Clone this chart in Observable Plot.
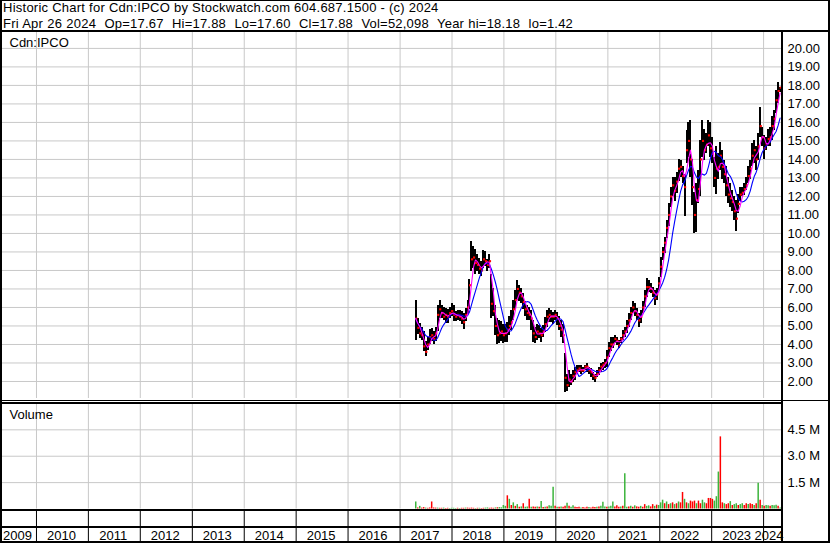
<!DOCTYPE html>
<html><head><meta charset="utf-8">
<script src="https://cdn.jsdelivr.net/npm/d3@7"></script>
<script src="https://cdn.jsdelivr.net/npm/@observablehq/plot@0.6"></script>
<style>
body{margin:0;background:#fff;}
#wrap{position:relative;width:830px;height:543px;overflow:hidden;background:#fff;font-family:"Liberation Sans",Arial,sans-serif;font-size:13px;color:#000;}
#wrap svg{position:absolute;left:0;overflow:visible;}
.hd{position:absolute;left:3px;white-space:pre;line-height:15px;font-size:13px;}
.ln{position:absolute;background:#000;z-index:5;}
</style></head><body><div id="wrap"></div>
<script>
const titleLine = "Historic Chart for Cdn:IPCO by Stockwatch.com 604.687.1500 - (c) 2024";
const quoteLine = "Fri Apr 26 2024  Op=17.67  Hi=17.88  Lo=17.60  Cl=17.88  Vol=52,098  Year hi=18.18  lo=1.42";
const symbolLabel = "Cdn:IPCO";
const volumeLabel = "Volume";

// biweekly bars ending on the last quote date
const lastDate = new Date(Date.UTC(2024, 3, 26));
const highs = [6.35,5.42,5.15,4.9,4.7,4.15,4.4,4.8,4.88,4.7,
4.9,6.1,6.4,6.1,6.0,5.96,5.9,6.0,6.2,6.1,
5.8,5.85,5.85,5.8,5.7,5.95,6.4,7.5,9.58,9.3,
9.15,8.85,8.67,8.5,9.1,9.0,8.6,8.85,7.77,7.05,
6.1,5.4,5.3,5.24,5.06,5.1,5.2,5.5,5.84,6.4,
6.9,7.46,7.2,7.0,6.74,6.3,6.1,6.0,5.84,5.3,
4.94,5.1,5.0,4.85,5.0,5.48,5.84,5.93,5.84,5.75,
5.84,5.75,5.5,5.3,5.1,3.5,2.4,2.6,2.4,2.6,
2.77,2.86,2.86,2.86,2.77,2.86,2.95,2.77,2.68,2.5,
2.4,2.6,2.77,2.95,3.05,3.2,3.68,4.1,4.4,4.4,
4.5,4.4,4.2,4.4,4.76,4.94,5.3,5.66,6.0,6.3,
6.2,5.93,5.66,5.84,6.3,6.9,7.55,7.46,7.28,7.1,
6.9,7.0,7.64,8.7,9.26,9.8,10.7,11.6,12.5,13.05,
13.05,13.3,14.0,13.95,13.6,13.2,15.57,16.0,16.1,14.0,
12.2,12.7,13.4,15.0,16.1,15.6,15.4,16.1,16.0,15.2,
14.1,14.7,14.3,14.9,14.5,13.95,13.6,13.0,12.7,12.3,
12.0,11.8,12.1,12.5,12.5,12.7,13.0,13.6,13.95,14.85,
15.0,14.7,15.4,16.8,15.75,15.3,15.2,15.6,15.75,16.3,
16.65,17.7,18.18,17.88];
const lows = [4.2,4.52,4.33,4.2,3.6,3.35,3.7,4.0,4.15,4.0,
4.15,4.7,5.4,5.4,5.3,5.15,5.15,5.4,5.5,5.25,
5.25,5.3,5.25,5.1,4.8,5.25,5.6,5.9,7.95,8.1,
7.77,7.95,7.77,7.7,8.1,8.2,7.95,8.1,5.4,5.5,
4.5,4.0,4.05,4.15,4.06,4.1,4.1,4.5,4.76,5.3,
5.84,6.4,6.3,6.2,5.9,5.5,5.3,5.3,4.76,4.1,
4.04,4.2,4.3,4.1,4.4,4.67,4.94,5.2,5.2,5.1,
5.3,5.0,4.76,4.4,4.04,1.42,1.45,1.7,1.8,1.96,
2.05,2.4,2.5,2.4,2.5,2.6,2.5,2.4,2.23,2.05,
1.96,2.23,2.3,2.5,2.6,2.7,2.77,3.3,3.6,3.77,
4.04,3.95,3.77,4.04,4.2,4.4,4.58,4.94,5.3,5.66,
5.5,5.3,4.94,5.12,5.66,6.0,6.56,6.83,6.74,6.56,
6.1,6.38,6.92,7.64,8.54,8.9,9.7,10.35,11.4,11.97,
11.7,12.15,12.8,13.05,12.7,10.9,13.77,14.1,13.05,11.5,
10.0,10.05,11.6,12.0,14.1,13.95,14.3,14.7,14.1,13.76,
12.5,12.1,12.9,13.4,12.9,12.7,12.0,11.6,11.4,11.2,
10.7,10.1,11.1,11.7,11.97,12.05,12.3,12.7,12.9,13.6,
13.76,13.4,13.95,15.2,14.7,14.0,14.5,14.7,14.7,15.0,
15.57,16.5,17.0,17.6];
const closes = [5.4,4.9,4.6,4.5,3.9,3.6,4.0,4.4,4.5,4.3,
4.6,5.6,5.9,5.7,5.5,5.6,5.5,5.7,5.8,5.6,
5.5,5.6,5.5,5.4,5.2,5.6,6.0,7.2,8.6,8.7,
8.4,8.3,8.1,8.0,8.6,8.5,8.3,8.5,6.2,5.8,
5.0,4.5,4.6,4.7,4.5,4.6,4.8,5.0,5.2,5.9,
6.4,7.0,6.8,6.6,6.3,5.9,5.7,5.6,5.4,4.6,
4.4,4.7,4.6,4.5,4.7,5.1,5.5,5.6,5.5,5.5,
5.6,5.4,5.0,4.8,4.5,2.2,1.8,2.1,2.0,2.3,
2.5,2.6,2.7,2.6,2.6,2.8,2.8,2.6,2.5,2.3,
2.2,2.4,2.6,2.8,2.9,3.0,3.3,3.8,4.0,4.0,
4.3,4.2,3.95,4.3,4.5,4.7,5.0,5.3,5.7,6.0,
5.8,5.6,5.3,5.5,6.0,6.6,7.1,7.1,7.0,6.8,
6.5,6.7,7.3,8.2,9.0,9.5,10.3,11.0,12.0,12.6,
12.3,12.8,13.5,13.6,13.1,12.5,14.5,15.0,14.0,12.5,
11.0,11.8,12.4,14.0,15.0,14.5,14.8,15.3,14.6,14.3,
13.0,13.5,13.6,14.2,13.6,13.2,12.6,12.1,11.9,11.7,
11.2,10.8,11.6,12.1,12.2,12.4,12.6,13.1,13.5,14.2,
14.5,14.0,14.7,15.8,15.2,14.6,14.8,15.1,15.2,15.8,
16.2,17.2,17.7,17.88];
// volume in millions, g = up (green), r = down (red)
const volumes = [0.40,0.06,0.15,0.05,0.08,0.05,0.04,0.06,0.40,0.06,0.05,0.05,0.04,0.04,0.05,0.03,0.04,0.03,0.04,
0.04,0.03,0.04,0.03,0.04,0.04,0.05,0.05,0.04,0.05,0.04,0.03,0.04,0.04,0.03,0.04,0.05,0.06,0.04,0.05,0.04,0.06,0.07,0.08,0.07,
0.20,0.15,0.75,0.55,0.20,0.35,0.15,0.25,0.10,0.12,0.30,0.10,0.12,0.55,0.10,0.12,0.10,0.12,0.10,0.42,0.08,0.10,0.12,0.18,0.15,1.23,
0.15,0.10,0.10,0.12,0.10,0.15,0.33,0.15,0.10,0.18,0.10,0.08,0.10,0.06,0.08,0.06,0.10,0.08,0.06,0.10,0.08,0.10,0.12,0.15,0.38,0.12,
0.10,0.12,0.15,0.40,0.12,0.18,0.10,0.12,0.15,2.00,0.10,0.12,0.15,0.10,0.18,0.12,0.10,0.15,0.10,0.25,0.15,0.18,0.12,0.25,0.15,0.22,
0.20,0.35,0.50,0.30,0.40,0.25,0.30,0.35,0.25,0.30,0.40,0.35,0.94,0.55,0.35,0.30,0.45,0.40,0.45,0.30,0.45,0.30,0.50,0.35,0.30,0.60,
0.60,0.55,0.45,0.70,2.10,4.10,0.35,0.30,0.25,0.30,0.42,0.20,0.25,0.30,0.20,0.25,0.30,0.20,0.30,0.25,0.30,0.25,0.20,0.30,1.46,0.50,
0.20,0.15,0.20,0.18,0.15,0.20,0.18,0.22,0.15,0.05];
const volDirections = ("grgrrgrrrrrgrrgrrgg" + "ggrgrrgrrrrgrgrrggrrrgrgg" + "ggrgrgrgrgrggrgrrgrgrgrggg" +
  "rgrgrrgrggrrrgrrrgrrrgrggg" + "rgggrrrgrggrgrgrrgrrggrrgr" + "gggrgrgrgrgrrgrgrrrgrrggrr" +
  "rrgggrrgrrgrggrggrrgrrgrgr" + "grggrgggrg").split("");

const priceTicks = [2,3,4,5,6,7,8,9,10,11,12,13,14,15,16,17,18,19,20];
const volumeTicks = [1.5, 3.0, 4.5];
const years = d3.range(2009, 2025);

const FONT = '"Liberation Sans", Arial, sans-serif';
const GRID = "#c8c8c8";
const xDomain = [new Date(Date.UTC(2009, 3, 23)), new Date(Date.UTC(2024, 4, 6))];
const n = highs.length;
const bars = highs.map((h, i) => ({
  date: d3.utcDay.offset(lastDate, -14 * (n - 1 - i)),
  hi: h, lo: lows[i], close: closes[i], vol: volumes[i],
  color: volDirections[i] === "g" ? "#3cb43c" : "#ff0000"
}));
const yearStarts = years.map(y => new Date(Date.UTC(y, 0, 1))).filter(d => d > xDomain[0] && d < xDomain[1]);
const yearCells = years.map(y => {
  const a = Math.max(+new Date(Date.UTC(y, 0, 1)), +xDomain[0]);
  const b = Math.min(+new Date(Date.UTC(y + 1, 0, 1)), +xDomain[1]);
  return {label: String(y), mid: new Date((a + b) / 2), last: y === years[years.length - 1]};
});

const common = {width: 830, marginLeft: 0, marginRight: 49, marginTop: 0,
  style: {fontFamily: FONT, fontSize: "13px", background: "transparent", color: "#000"}};
const xScale = {type: "utc", domain: xDomain, axis: null};

const price = Plot.plot({
  ...common, height: 366, marginBottom: 0,
  x: xScale,
  y: {domain: [1.08, 20.86]},
  marks: [
    Plot.ruleY(priceTicks, {stroke: GRID}),
    Plot.ruleX(yearStarts, {stroke: GRID}),
    Plot.ruleX(bars, {x: "date", y1: "lo", y2: "hi", stroke: "#000", strokeWidth: 2, shapeRendering: "crispEdges"}),
    Plot.dot(bars, {x: "date", y: "close", symbol: "square", r: 1.2, fill: "#ff0000", stroke: null, dx: 0.6}),
    Plot.lineY(bars, Plot.windowY({k: 8, anchor: "end", reduce: "mean"}, {x: "date", y: "close", stroke: "#0000ff", strokeWidth: 1.1})),
    Plot.lineY(bars, Plot.windowY({k: 3, anchor: "end", reduce: "mean"}, {x: "date", y: "close", stroke: "#ff00ff", strokeWidth: 1.1})),
    Plot.axisY({ticks: priceTicks, anchor: "right", tickSize: 0, tickPadding: 6, tickFormat: d => d.toFixed(2), fontSize: 13, label: null}),
    Plot.text([symbolLabel], {frameAnchor: "top-left", dx: 9, dy: 5, lineAnchor: "top", fontSize: 13, fill: "#000"})
  ]
});

const volume = Plot.plot({
  ...common, height: 106, marginBottom: 1.5,
  x: xScale,
  y: {domain: [0, 5.94]},
  color: {type: "identity"},
  marks: [
    Plot.ruleY(volumeTicks, {stroke: GRID}),
    Plot.ruleX(yearStarts, {stroke: GRID}),
    Plot.ruleX(bars, {x: "date", y1: 0, y2: "vol", stroke: "color", strokeWidth: 1.5}),
    Plot.axisY({ticks: volumeTicks, anchor: "right", tickSize: 0, tickPadding: 6, tickFormat: d => d.toFixed(1) + " M", fontSize: 13, label: null}),
    Plot.text([volumeLabel], {frameAnchor: "top-left", dx: 9, dy: 5, lineAnchor: "top", fontSize: 13, fill: "#000"})
  ]
});

const strip = Plot.plot({
  ...common, height: 30, marginBottom: 0,
  x: xScale,
  y: {domain: [0, 1], axis: null},
  marks: [
    Plot.ruleX(yearStarts, {stroke: "#000"}),
    Plot.text(yearCells.filter(d => !d.last), {x: "mid", text: "label", frameAnchor: "bottom", dy: -2, dx: -1, lineAnchor: "bottom", fontSize: 13, fill: "#000"}),
    Plot.text(yearCells.filter(d => d.last), {x: () => xDomain[1], text: "label", frameAnchor: "bottom", dy: -2, dx: 2, textAnchor: "end", lineAnchor: "bottom", fontSize: 13, fill: "#000"})
  ]
});

const wrap = document.getElementById("wrap");
function place(el, top) { el.style.position = "absolute"; el.style.top = top + "px"; el.style.left = "0px"; wrap.appendChild(el); }
place(price, 32);
place(volume, 404);
place(strip, 511);

function hd(text, top, ls, ws) { const d = document.createElement("div"); d.className = "hd"; d.textContent = text; d.style.top = top + "px"; d.style.letterSpacing = ls + "px"; d.style.wordSpacing = ws + "px"; wrap.appendChild(d); }
hd(titleLine, 0, 0.25, 0);
hd(quoteLine, 16, 0.2, 0.4);

function ln(l, t, w, h) { const d = document.createElement("div"); d.className = "ln"; Object.assign(d.style, {left: l + "px", top: t + "px", width: w + "px", height: h + "px"}); wrap.appendChild(d); }
ln(0, 0, 830, 1);      // top border
ln(0, 0, 2, 543);      // left border
ln(828, 0, 2, 543);    // right border
ln(0, 541, 830, 2);    // bottom border
ln(0, 30, 830, 2);     // header rule
ln(781, 32, 2, 511);   // axis divider
ln(0, 400, 830, 1);    // price / volume
ln(0, 402, 781, 2);
ln(0, 509, 781, 2);    // volume / year strip
ln(0, 526, 781, 2);
</script></body></html>
